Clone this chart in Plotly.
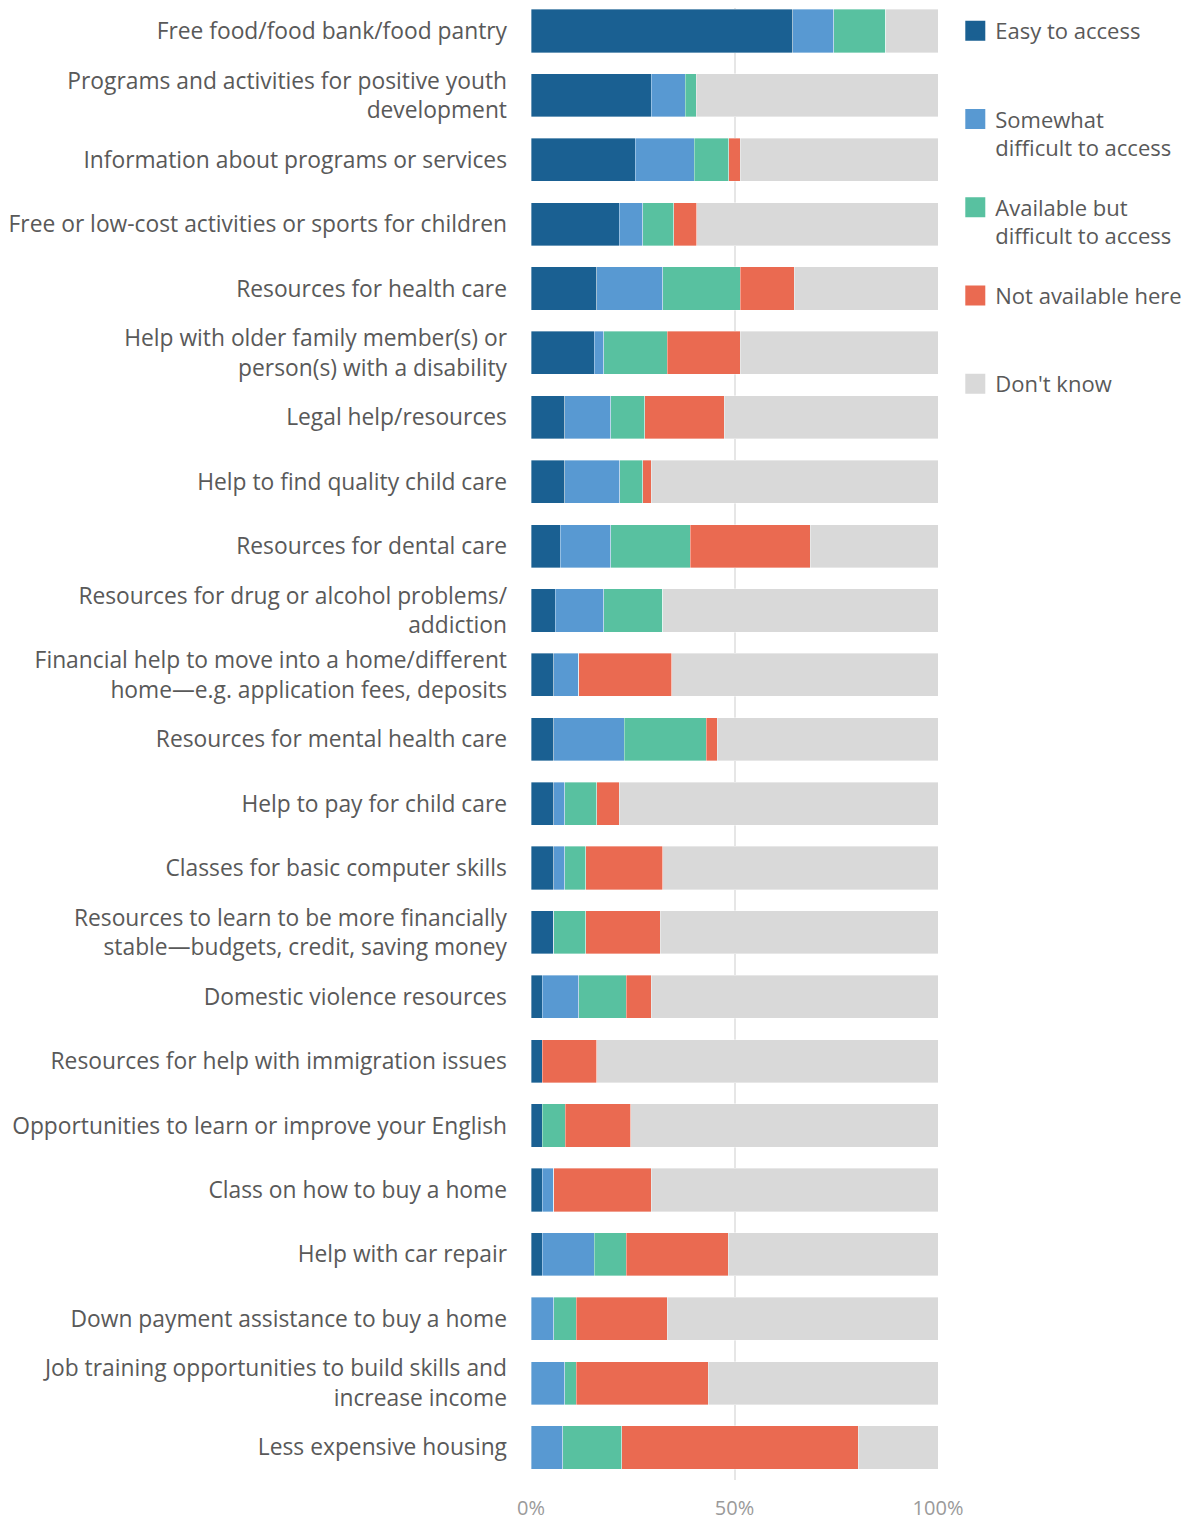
import plotly.graph_objects as go

# -------------------------
# Data (share of respondents, %)
# -------------------------
resources = [
    "Free food/food bank/food pantry",
    "Programs and activities for positive youth<br>development",
    "Information about programs or services",
    "Free or low-cost activities or sports for children",
    "Resources for health care",
    "Help with older family member(s) or<br>person(s) with a disability",
    "Legal help/resources",
    "Help to find quality child care",
    "Resources for dental care",
    "Resources for drug or alcohol problems/<br>addiction",
    "Financial help to move into a home/different<br>home\u2014e.g. application fees, deposits",
    "Resources for mental health care",
    "Help to pay for child care",
    "Classes for basic computer skills",
    "Resources to learn to be more financially<br>stable\u2014budgets, credit, saving money",
    "Domestic violence resources",
    "Resources for help with immigration issues",
    "Opportunities to learn or improve your English",
    "Class on how to buy a home",
    "Help with car repair",
    "Down payment assistance to buy a home",
    "Job training opportunities to build skills and<br>increase income",
    "Less expensive housing",
]

easy = [64.3, 29.6, 25.6, 21.7, 16.1, 15.6, 8.3, 8.3, 7.2, 6.0, 5.6, 5.6,
        5.6, 5.6, 5.6, 2.8, 2.8, 2.8, 2.8, 2.8, 0.0, 0.0, 0.0]
somewhat = [10.1, 8.3, 14.5, 5.7, 16.3, 2.3, 11.3, 13.5, 12.4, 11.9, 6.1, 17.3,
            2.7, 2.7, 0.0, 8.9, 0.0, 0.0, 2.8, 12.8, 5.6, 8.3, 7.8]
available = [12.7, 2.7, 8.5, 7.7, 19.0, 15.6, 8.3, 5.6, 19.5, 14.5, 0.0, 20.1,
             7.8, 5.1, 7.8, 11.7, 0.0, 5.6, 0.0, 7.8, 5.5, 2.8, 14.5]
not_here = [0.0, 0.0, 2.8, 5.6, 13.3, 17.9, 19.6, 2.2, 29.5, 0.0, 22.9, 2.8,
            5.6, 19.0, 18.4, 6.2, 13.3, 16.1, 24.0, 25.1, 22.4, 32.5, 58.1]
dont_know = [12.9, 59.4, 48.6, 59.3, 35.3, 48.6, 52.5, 70.4, 31.4, 67.6, 65.4, 54.2,
             78.3, 67.6, 68.2, 70.4, 83.9, 75.5, 70.4, 51.5, 66.5, 56.4, 19.6]

series = [
    ("Easy to access<br> ", easy, "#1a6092"),
    ("Somewhat<br>difficult to access", somewhat, "#5899d2"),
    ("Available but<br>difficult to access", available, "#58c1a0"),
    ("Not available here<br> ", not_here, "#ea6a51"),
    ("Don't know<br> ", dont_know, "#d9d9d9"),
]

FONT = "Open Sans"
TEXT = "#595959"

# -------------------------
# Figure
# -------------------------
fig = go.Figure()
for i, (name, vals, color) in enumerate(series):
    fig.add_trace(go.Bar(
        y=resources, x=vals, name=name, orientation="h",
        marker=dict(color=color, line=dict(color="rgba(255,255,255,0.6)", width=0.6)),
        showlegend=False,
    ))
    # legend-only square swatch (bar legend symbols are too small)
    fig.add_trace(go.Scatter(
        x=[None], y=[None], mode="markers", name=name,
        marker=dict(symbol="square", size=16, color=color,
                    line=dict(color=color, width=4)),
        legendgroup=str(i),
    ))

# page body adds an 8px margin, so the figure is sized to fit inside it
fig.update_layout(
    width=1192, height=1514,
    barmode="stack", bargap=0.33,
    plot_bgcolor="white", paper_bgcolor="white",
    margin=dict(l=523, r=262, t=0, b=42),
    font=dict(family=FONT, color=TEXT, size=22),
    legend=dict(
        x=1.0425, xanchor="left", y=0.9986, yanchor="top",
        traceorder="grouped", tracegroupgap=28, valign="top",
        font=dict(family=FONT, size=22, color=TEXT),
        itemsizing="trace", itemwidth=30, borderwidth=0,
    ),
    showlegend=True,
)

fig.update_xaxes(
    range=[0, 100], tickvals=[0, 50, 100], ticktext=["0%", "50%", "100%"],
    showgrid=True, gridcolor="#e6e6e6", gridwidth=2,
    zeroline=False, showline=False, ticks="",
    tickfont=dict(family=FONT, size=20, color="#9a9a9a"),
    ticklabelstandoff=14, automargin=False,
)
fig.update_yaxes(
    type="category", categoryorder="array", categoryarray=resources,
    range=[22.505, -0.357], showgrid=False, zeroline=False, showline=False,
    ticks="", tickfont=dict(family=FONT, size=22.8, color=TEXT),
    ticklabelstandoff=23, automargin=False,
)

fig.write_html("out.html")
